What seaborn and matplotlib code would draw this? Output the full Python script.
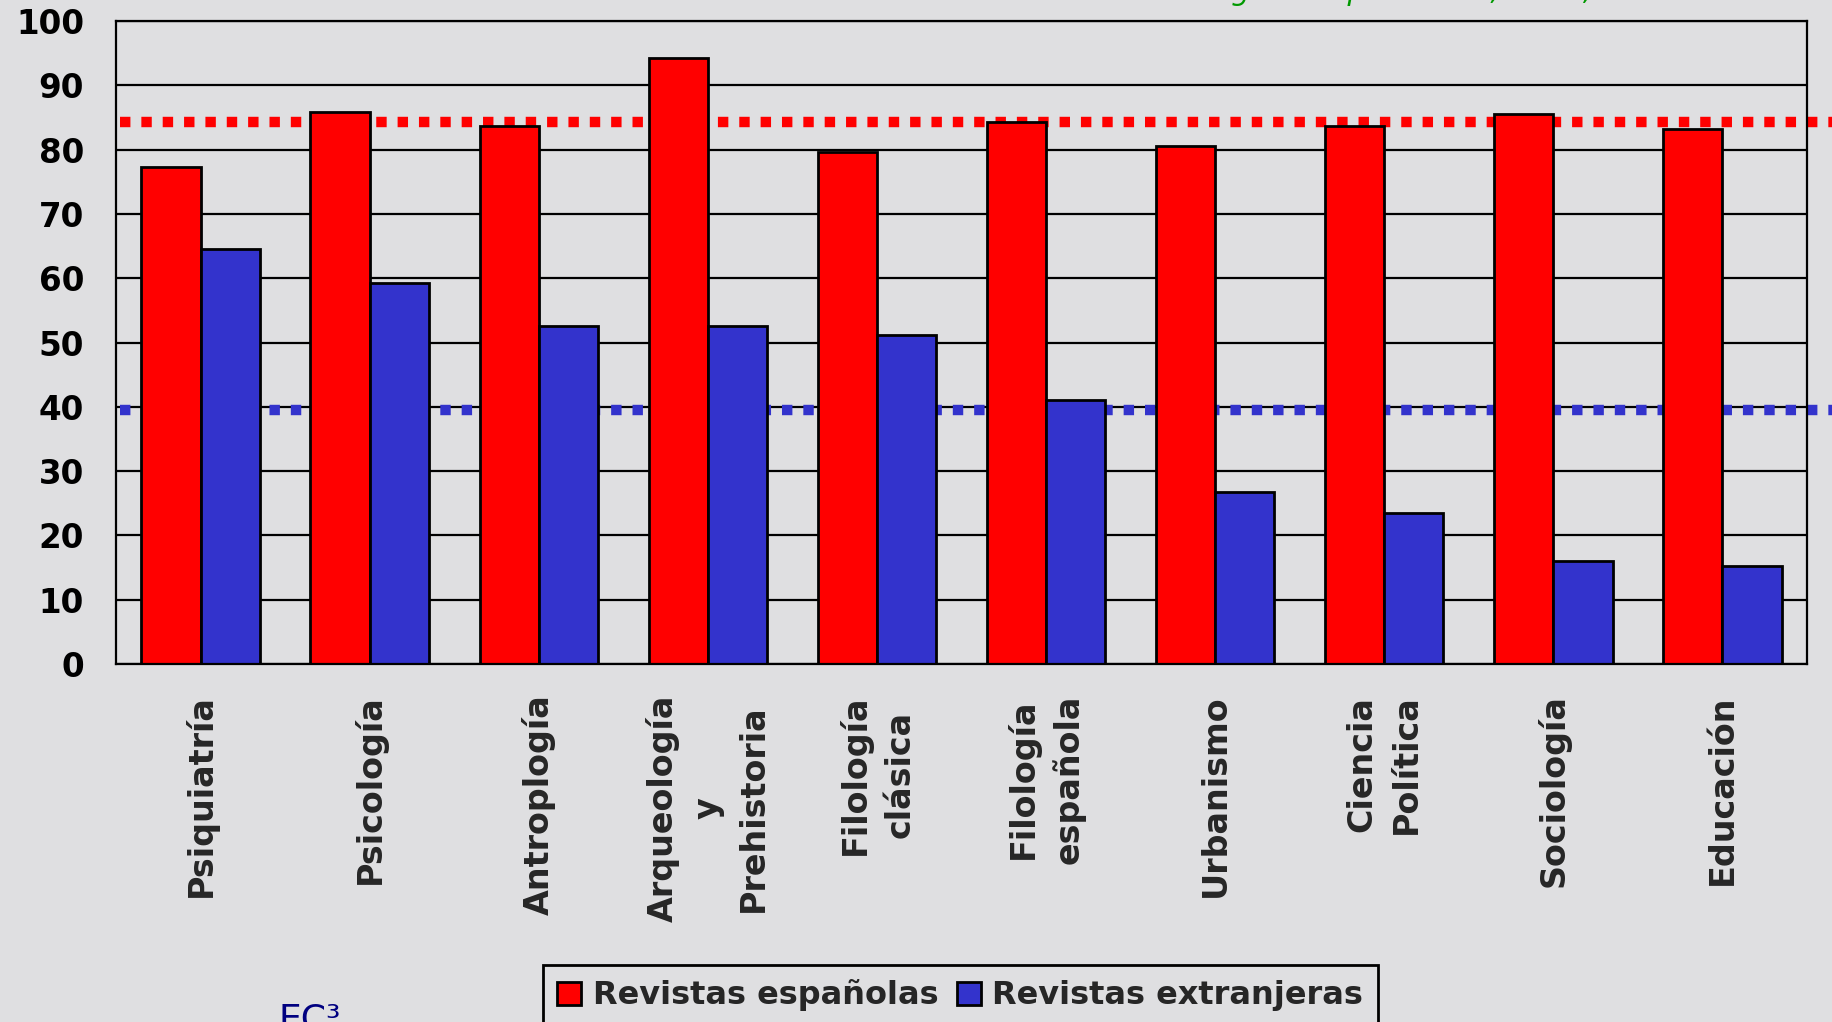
import matplotlib
matplotlib.use("Agg")
import matplotlib.pyplot as plt
import seaborn as sns
import pandas as pd

areas = ["Psiquiatría", "Psicología", "Antroplogía", "Arqueología\ny\nPrehistoria",
         "Filología\nclásica", "Filología\nespañola", "Urbanismo", "Ciencia\nPolítica",
         "Sociología", "Educación"]
espanolas = [77.3, 85.9, 83.7, 94.2, 79.6, 84.3, 80.6, 83.7, 85.5, 83.2]
extranjeras = [64.6, 59.3, 52.6, 52.6, 51.1, 41.0, 26.8, 23.5, 16.0, 15.3]
series = ["Revistas españolas", "Revistas extranjeras"]
media_esp = 84.3
media_ext = 39.5

rojo = "#ff0000"
azul = "#3333cc"
fondo = "#dfdfe1"

df = pd.DataFrame({
    "area": areas * 2,
    "valor": espanolas + extranjeras,
    "serie": [series[0]] * len(areas) + [series[1]] * len(areas),
})

sns.set_style("white")
plt.rcParams["font.family"] = ["DejaVu Sans"]
plt.rcParams["font.weight"] = "bold"

fig = plt.figure(figsize=(18.32, 10.22), dpi=100, facecolor=fondo)
ax = fig.add_axes([116 / 1832, 1 - 664 / 1022, (1807 - 116) / 1832, (664 - 21) / 1022])
ax.set_facecolor(fondo)

sns.barplot(data=df, x="area", y="valor", hue="serie", palette=[rojo, azul],
            width=0.7, edgecolor="black", linewidth=2, saturation=1, ax=ax, zorder=2)

ax.set_ylim(0, 100)
ax.set_xlim(-0.5, len(areas) - 0.5)
ax.set_yticks(range(0, 101, 10))
ax.grid(axis="y", color="black", linewidth=1.6, zorder=0)
ax.set_axisbelow(True)

# reference means (dotted, behind bars, running past the frame)
ax.axhline(media_esp, xmin=0.0025, xmax=1.015, color=rojo, linewidth=7.5,
           linestyle=(0, (1, 1.05)), clip_on=False, zorder=1)
ax.axhline(media_ext, xmin=0.0025, xmax=1.015, color=azul, linewidth=7.5,
           linestyle=(0, (1, 1.05)), clip_on=False, zorder=1)

for s in ax.spines.values():
    s.set_color("black")
    s.set_linewidth(1.6)

ax.set_xlabel("")
ax.set_ylabel("")
ax.tick_params(axis="y", direction="out", length=9, width=1.6, pad=14,
               labelsize=23.5, colors="black")
ax.set_xticks([i - 0.5 for i in range(len(areas) + 1)], minor=True)
ax.tick_params(axis="x", which="minor", direction="out", length=11, width=1.6)
ax.tick_params(axis="x", which="major", length=0, pad=22)
ax.set_xticks(range(len(areas)))
ax.set_xticklabels(areas, rotation=90, fontsize=24, fontweight="bold",
                   va="top", ha="center", multialignment="center", linespacing=1.45)
for lab in ax.get_yticklabels():
    lab.set_fontweight("bold")

handles, labels = ax.get_legend_handles_labels()
ax.get_legend().remove()
leg = fig.legend(handles, labels, loc="upper left", bbox_to_anchor=(543 / 1832, 1 - 965 / 1022),
                 borderaxespad=0, ncol=2, frameon=True, fancybox=False, facecolor=fondo,
                 edgecolor="black", framealpha=1, handlelength=0.75, handleheight=0.75,
                 handletextpad=0.35, columnspacing=0.6, borderpad=0.45,
                 prop={"weight": "bold", "size": 23})
leg.get_frame().set_linewidth(2)

fig.text(278 / 1832, 1 - 1003 / 1022, "EC³", color="#000080", fontsize=26,
         fontweight="normal", ha="left", va="top")
# source line, almost entirely above the top edge as in the original slide
fig.text(1800 / 1832, 1 - 0.5 / 1022, "Delgado López-Cózar, 2003, In-RECS 2004", color="#009900",
         fontsize=21, fontstyle="italic", fontweight="normal", ha="right", va="baseline")

fig.savefig("out.png", dpi=100, facecolor=fondo)
